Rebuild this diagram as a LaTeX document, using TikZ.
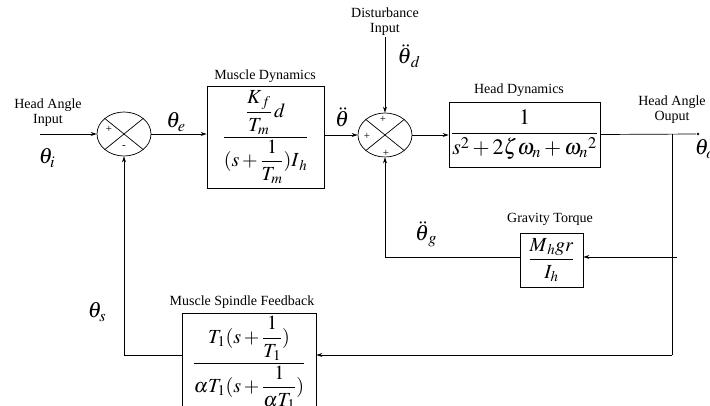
\documentclass[tikz,border=0pt]{standalone}
\usepackage{amsmath}
\usepackage{mathptmx}
\usepackage{fontspec}
\setmainfont{Liberation Serif}
\usetikzlibrary{arrows.meta,shapes.geometric}

\begin{document}
\begin{tikzpicture}[x=1pt,y=-1pt,line width=.7pt,font=\fontsize{14}{15}\selectfont,
  >={Stealth[length=6pt,width=4pt]},
  sumnode/.style={draw,ellipse,minimum width=54pt,minimum height=44pt,inner sep=0pt},
  blockbox/.style={draw,line width=.9pt,inner sep=1pt},
  sgn/.style={inner sep=0pt,font=\fontsize{11}{11}\selectfont},
  sig/.style={inner sep=1pt,font=\fontsize{22}{22}\selectfont},
  lbl/.style={inner sep=1pt,align=center}]
\path[use as bounding box] (0,0) rectangle (710,406);
\clip (0,0) rectangle (710,406);
\node[sumnode] (s1) at (124,134) {};
\draw (s1.39)--(s1.219) (s1.141)--(s1.321);
\node[sgn] (s1p) at (109,129) {+};
\node[sgn] (s1m) at (124,147) {-};
\node[sumnode] (s2) at (385,135) {};
\draw (s2.39)--(s2.219) (s2.141)--(s2.321);
\node[sgn] (s2t) at (383,119) {+};
\node[sgn] (s2l) at (367,136) {+};
\node[sgn] (s2b) at (386,153) {+};
\node[blockbox,minimum width=117pt,minimum height=102pt] (md) at (265.5,137) {\fontsize{20}{22}\selectfont$\dfrac{\dfrac{K_{\,f}}{T_m}\,d}{(s+\dfrac{1}{T_m})I_{\,h}}$};
\node[blockbox,minimum width=151pt,minimum height=65pt] (hd) at (524.5,134.5) {\fontsize{22}{24}\selectfont$\dfrac{1}{s^2+2\zeta\omega_n+\omega_n{}^2}$};
\node[blockbox,minimum width=63pt,minimum height=54pt] (gt) at (551.5,260) {\fontsize{20}{22}\selectfont$\dfrac{M_{\,h}gr}{I_h}$};
\node[blockbox,minimum width=134pt,minimum height=100pt] (msf) at (249,363) {\fontsize{20}{22}\selectfont$\dfrac{T_1(s+\dfrac{1}{T_1})}{\alpha T_1(s+\dfrac{1}{\alpha T_1})}$};
\node[lbl] (hai) at (48,113) {Head Angle\\Input};
\node[lbl] (dist) at (385,22) {Disturbance\\Input};
\node[lbl] (hao) at (672,110) {Head Angle\\Ouput};
\node[lbl] (mdl) at (265,76) {Muscle Dynamics};
\node[lbl] (hdl) at (519,90) {Head Dynamics};
\node[lbl] (gtl) at (550,219) {Gravity Torque};
\node[lbl] (msfl) at (242,302) {Muscle Spindle Feedback};
\node[sig] (thi) at (47,158) {$\theta_i$};
\node[sig] (the) at (176,122) {$\theta_e$};
\node[sig] (thdd) at (342,117) {$\ddot{\theta}$};
\node[sig] (thd) at (409,56) {$\ddot{\theta}_{\,d}$};
\node[sig] (thg) at (426,234) {$\ddot{\theta}_{\,g}$};
\node[sig] (tho) at (705,149) {$\theta_o$};
\node[sig] (ths) at (97,312) {$\theta_s$};
\node[circle,fill,inner sep=1pt] (out) at (698,134) {};
\coordinate (in) at (40,134);
\coordinate (j) at (672,134);
\coordinate (jg) at (677,257);
\coordinate (jb) at (672,355);
\draw[->] (in)--(s1.west);
\draw[->] (s1.east)--(s1.east -| md.west);
\draw[->] (s2.west -| md.east)--(s2.west);
\draw[->] (dist.south)--(s2.north);
\draw[->] (s2.east)--(s2.east -| hd.west);
\draw (hd.east)--(out);
\draw (j)--(jb);
\draw[->] (jg)--(jg -| gt.east);
\draw[->] (jg -| gt.west)-|(s2.south);
\draw[->] (jb)--(jb -| msf.east);
\draw[->] (jb -| msf.west)-|(s1.south);
\end{tikzpicture}
\end{document}
